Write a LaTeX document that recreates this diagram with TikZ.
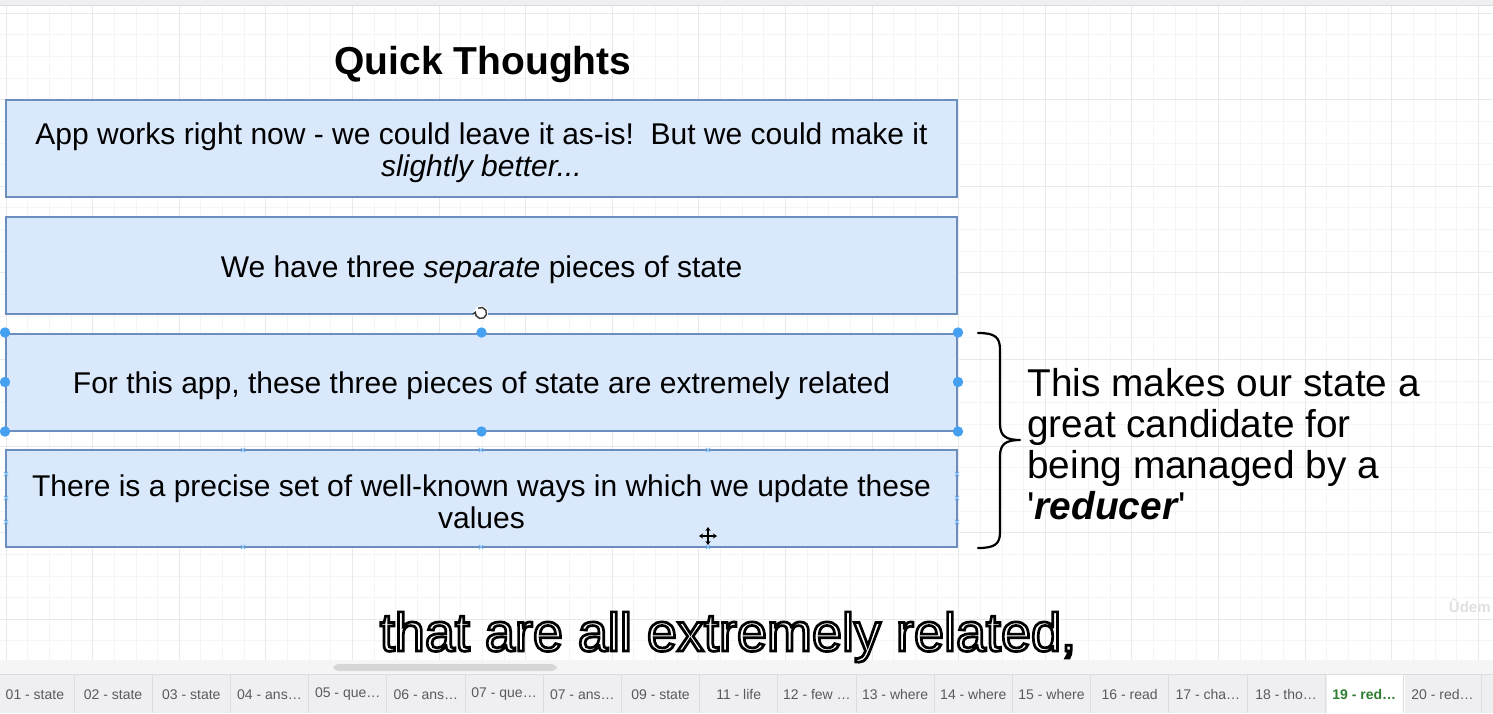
\documentclass[tikz,border=0pt]{standalone}
\usepackage{fontspec}
\setmainfont{Liberation Sans}
\newfontfamily\subfont[FakeBold=5]{Liberation Sans}
\usetikzlibrary{arrows.meta}
\definecolor{boxfill}{HTML}{DAE8FC}
\definecolor{boxline}{HTML}{6C8EBF}
\definecolor{handle}{HTML}{45A0F2}
\definecolor{gridminor}{HTML}{F5F5F6}
\definecolor{gridmajor}{HTML}{E9E9EB}
\definecolor{tabbg}{HTML}{EFEFF1}
\definecolor{tabsep}{HTML}{DCDCDF}
\definecolor{tabtext}{HTML}{5A5A5E}
\definecolor{tabgreen}{HTML}{2E7D32}
\newcommand\subtxt{that are all extremely related,}
\begin{document}
\begin{tikzpicture}[x=0.5pt,y=-0.5pt,
  box/.style={draw=boxline, fill=boxfill, line width=1pt, minimum width=475.5pt, minimum height=48.5pt, inner sep=0pt},
  boxtxt/.style={align=center, inner sep=0pt, font=\fontsize{15}{16}\selectfont},
  hdl/.style={fill=handle},
  xm/.style={draw=handle!70, line width=0.4pt},
  tablbl/.style={font=\fontsize{7}{8}\selectfont, text=tabtext},
  subsh/.style={font=\subfont\fontsize{27}{30}\selectfont, anchor=base}]
\useasboundingbox (0,0) rectangle (1493,713);
\fill[white] (0,0) rectangle (1493,713);
% grid
\foreach \i in {0,...,70} \draw[gridminor, line width=0.4pt] ({6+21.65*(\i-1)},6) -- ({6+21.65*(\i-1)},660);
\foreach \i in {0,...,31} \draw[gridminor, line width=0.4pt] (0,{13+21.65*\i}) -- (1493,{13+21.65*\i});
\foreach \i in {0,...,18} \draw[gridmajor, line width=0.4pt] ({6+86.6*\i},6) -- ({6+86.6*\i},660);
\foreach \i in {0,...,7} \draw[gridmajor, line width=0.4pt] (0,{13+86.6*\i}) -- (1493,{13+86.6*\i});
\fill[tabbg] (0,0) rectangle (1493,5);
\draw[tabsep, line width=0.4pt] (0,5) -- (1493,5);

% title
\node[font=\bfseries\fontsize{19.5}{22}\selectfont] (title) at (483,64) {Quick Thoughts};

% boxes
\node[box] (b1) at (481.5,148) {};
\node[box] (b2) at (481.5,265.5) {};
\node[box] (b3) at (481.5,382) {};
\node[box] (b4) at (481.5,498.5) {};
\node[boxtxt] (t1) at ([yshift=-2.5pt]b1.center) {App works right now - we could leave it as-is!\ \ But we could make it\\\textit{slightly better...}};
\node[boxtxt] (t2) at ([yshift=-2pt]b2.center) {We have three \textit{separate} pieces of state};
\node[boxtxt] (t3) at ([yshift=-2pt]b3.center) {For this app, these three pieces of state are extremely related};
\node[boxtxt] (t4) at ([yshift=-1.5pt]b4.center) {There is a precise set of well-known ways in which we update these\\values};

% selection handles on b3
\foreach \a in {north west,north,north east,west,east,south west,south,south east}
  \fill[hdl] (b3.\a) circle (2.6pt);
% connection markers on b4
\foreach \p in {(243,450),(481,450),(708,450),(243,547),(481,547),(708,547),(6,474),(6,498),(6,522),(957,474),(957,498),(957,522)}
  \draw[xm] \p +(-2.2,-2.2) -- +(2.2,2.2) \p +(-2.2,2.2) -- +(2.2,-2.2);

% rotate icon
\coordinate (rot) at (481,313);
\fill[white] (rot) circle (3.6pt);
\draw[line width=0.7pt, black!80, -{Stealth[length=2pt,width=2.4pt]}] ([shift={(120:2.8pt)}]rot) arc[start angle=120, end angle=-200, radius=2.8pt];
% move cursor
\coordinate (mv) at (708,536);
\draw[line width=0.8pt, {Stealth[length=2pt,width=2.6pt]}-{Stealth[length=2pt,width=2.6pt]}] ([xshift=-4.5pt]mv) -- ([xshift=4.5pt]mv);
\draw[line width=0.8pt, {Stealth[length=2pt,width=2.6pt]}-{Stealth[length=2pt,width=2.6pt]}] ([yshift=-4.5pt]mv) -- ([yshift=4.5pt]mv);

% brace
\coordinate (bt) at (978,333);
\coordinate (bb) at (978,548);
\coordinate (tip) at (1020,440);
\draw[line width=1.1pt, line cap=round, line join=round]
  (bt) .. controls (995,333) and (1000,337) .. (1000,350) -- (1000,424)
  .. controls (1000,436) and (1006,440) .. (tip)
  .. controls (1006,440) and (1000,444) .. (1000,456) -- (1000,532)
  .. controls (1000,544) and (995,548) .. (bb);

% note
\node[anchor=west, align=left, inner sep=0pt, font=\fontsize{19.4}{20.5}\selectfont] (note) at (1027,444)
  {This makes our state a\\great candidate for\\being managed by a\\\textquotesingle\textbf{\textit{reducer}}\textquotesingle};

% bottom bars
\fill[white!96!black] (0,660) rectangle (1493,674);
\fill[black!16, rounded corners=3pt] (333,664) rectangle (557,671);
\fill[tabbg] (0,674) rectangle (1493,713);
\draw[tabsep, line width=0.4pt] (0,674) -- (1493,674);
\fill[white] (1326.6,675) rectangle (1404.8,713);
\foreach \k in {0,...,18} \draw[tabsep, line width=0.4pt] ({74+78.2*\k},675) -- ({74+78.2*\k},713);
\foreach \k/\t in {0/01 - state,1/02 - state,2/03 - state,3/04 - ans…,4/05 - que…,5/06 - ans…,6/07 - que…,7/07 - ans…,8/09 - state,9/11 - life,10/12 - few …,11/13 - where,12/14 - where,13/15 - where,14/16 - read,15/17 - cha…,16/18 - tho…,18/20 - red…}
  \node[tablbl] (tab\k) at ({34.9+78.2*\k},694.5) {\t};
\node[tablbl, text=tabgreen, font=\bfseries\fontsize{7}{8}\selectfont] (tab17) at ({34.9+78.2*17},694.5) {19 - red…};

% watermark
\node[anchor=east, text=black!12, font=\bfseries\fontsize{7.5}{9}\selectfont, inner sep=0pt] (wm) at (1491,606) {Ûdem};

% subtitle
\coordinate (sub) at (728,651);
\node[subsh] (subtitle) at (sub) {\special{pdf:bcolor [1] [0]}\subtxt\special{pdf:ecolor}};
\end{tikzpicture}
\end{document}
